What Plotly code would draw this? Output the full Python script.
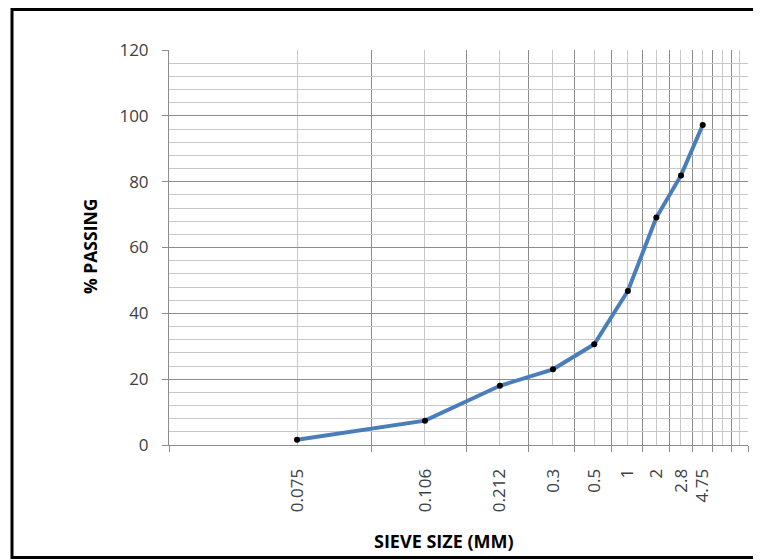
import math
import plotly.graph_objects as go

# Data
sieve_labels = ["0.075", "0.106", "0.212", "0.3", "0.5", "1", "2", "2.8", "4.75"]
category_index = [1, 2, 3, 4, 5, 6, 7, 8, 9]
percent_passing = [1.6, 7.4, 18.0, 23.0, 30.6, 46.8, 69.1, 81.9, 97.2]

# Axis tick positions (category slots on the log axis)
label_slots = [1, 2, 3, 4, 5, 6, 7, 8, 9, 10, 11]
label_texts = sieve_labels + ["", ""]
boundary_slots = [0.5, 1.5, 2.5, 3.5, 4.5, 5.5, 6.5, 7.5, 8.5, 9.5, 10.5, 11.5]

# page has an 8px body margin; figure coordinates = page coordinates - 8
OFF = 8
W, H = 761 - OFF, 560 - OFF
L, R, T, B = 169 - OFF, 748 - OFF, 50 - OFF, 445 - OFF


def px(x):
    return (x - OFF - L) / (R - L)


def py(y):
    return (B - (y - OFF)) / (B - T)


fig = go.Figure()
fig.add_trace(go.Scatter(
    x=category_index, y=percent_passing,
    mode="lines+markers",
    line=dict(color="#4A7EBB", width=4),
    marker=dict(color="black", size=6),
    showlegend=False, hoverinfo="skip",
))

major_grid = "#8C8C8C"
minor_grid = "#C8C8C8"
tick_font = dict(family="Open Sans", size=17, color="#404040")

fig.update_layout(
    width=W, height=H,
    margin=dict(l=L, r=W - R, t=T, b=H - B, pad=0),
    paper_bgcolor="white", plot_bgcolor="white",
    xaxis=dict(
        type="log",
        range=[math.log10(0.5), math.log10(11.5)],
        tickmode="array", tickvals=label_slots, ticktext=label_texts,
        tickangle=-90, tickfont=tick_font,
        ticks="", showgrid=True, gridcolor=minor_grid, gridwidth=1,
        ticklabelstandoff=16,
        showline=True, linecolor=major_grid, linewidth=1,
        zeroline=False,
        minor=dict(tickmode="array", tickvals=boundary_slots,
                   ticks="outside", ticklen=6, tickcolor=major_grid,
                   showgrid=True, gridcolor=major_grid, gridwidth=1),
    ),
    yaxis=dict(
        range=[0, 120], tickmode="linear", tick0=0, dtick=20,
        tickfont=tick_font,
        ticks="outside", ticklen=6, tickcolor=major_grid,
        ticklabelstandoff=10,
        showgrid=True, gridcolor=major_grid, gridwidth=1,
        showline=True, linecolor=major_grid, linewidth=1,
        zeroline=False,
        minor=dict(dtick=4, showgrid=True, gridcolor=minor_grid, ticks=""),
    ),
    annotations=[
        dict(text="<b>SIEVE SIZE (MM)</b>", xref="paper", yref="paper",
             x=px(444), y=py(541),
             xanchor="center", yanchor="middle", showarrow=False,
             font=dict(family="Open Sans", size=18, color="black")),
        dict(text="<b>% PASSING</b>", xref="paper", yref="paper",
             x=px(90), y=py(247), textangle=-90,
             xanchor="center", yanchor="middle", showarrow=False,
             font=dict(family="Open Sans", size=17.5, color="black")),
    ],
    shapes=[
        dict(type="rect", xref="paper", yref="paper",
             x0=px(12), x1=px(775),
             y0=py(557.5), y1=py(9.5),
             line=dict(color="black", width=3), layer="above"),
    ],
)

fig.write_html("out.html")
